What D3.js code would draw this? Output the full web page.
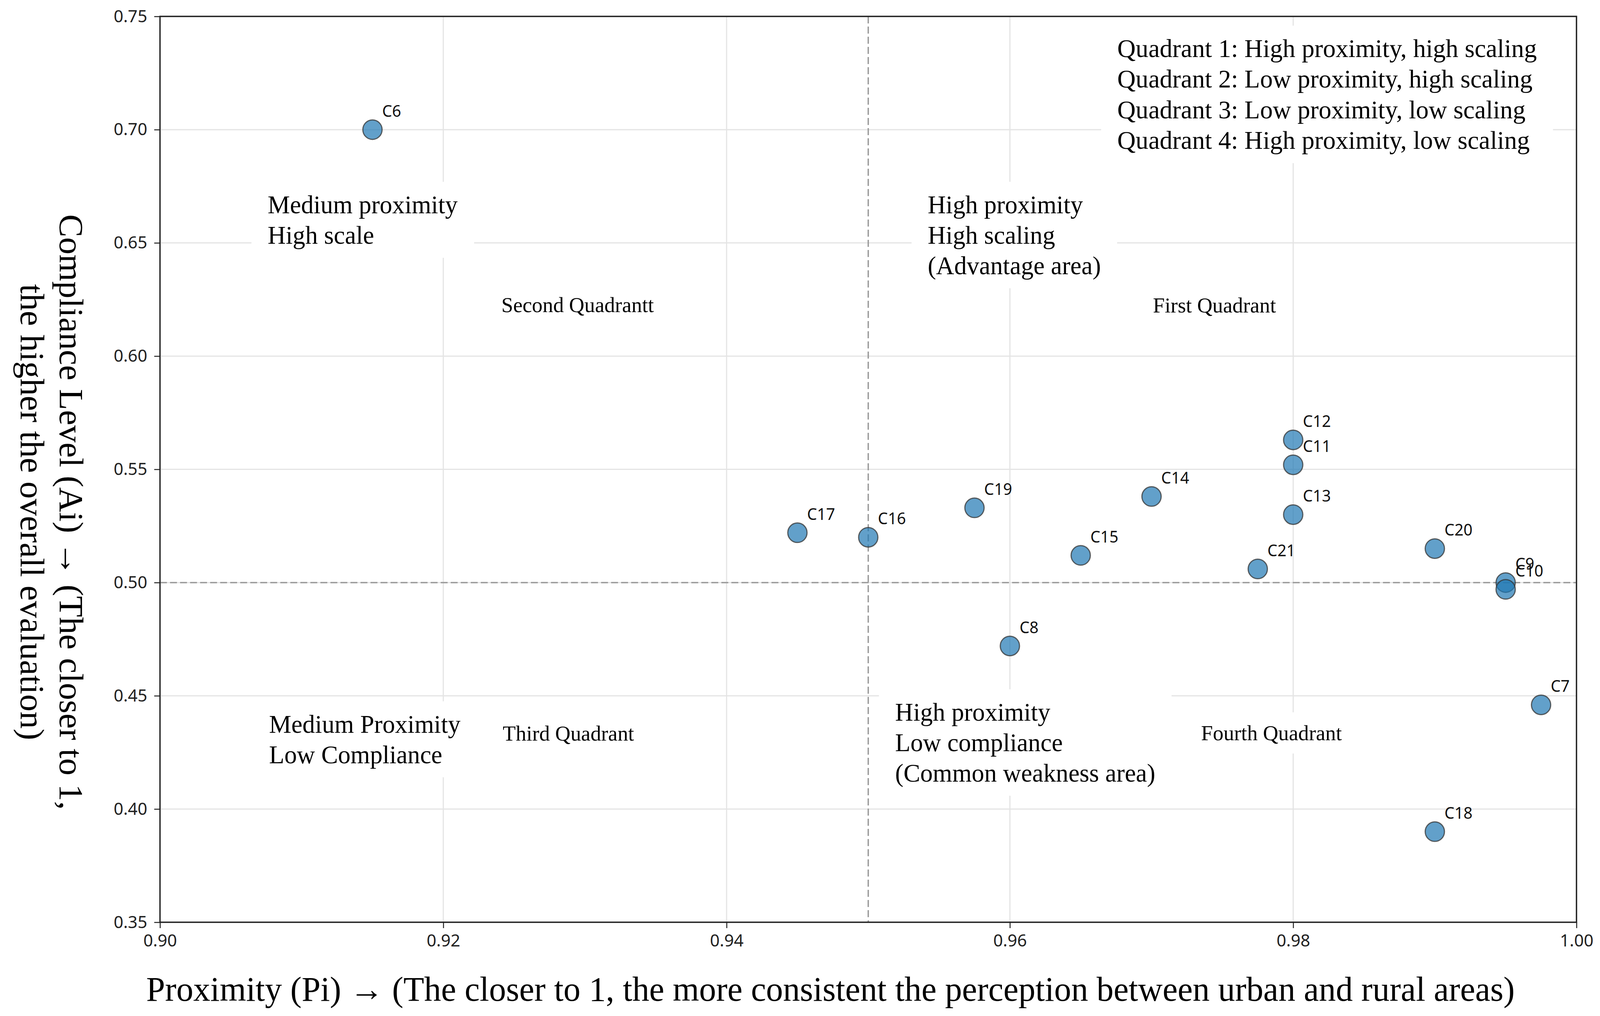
<!DOCTYPE html>
<html>
<head>
<meta charset="utf-8">
<script src="https://cdn.jsdelivr.net/npm/d3@7"></script>
<style>
  html, body { margin: 0; padding: 0; background: #fff; overflow: hidden; }
  svg { display: block; width: 100vw; height: 100vh; }
</style>
</head>
<body>
<svg viewBox="0 0 4150 2601" preserveAspectRatio="none"></svg>
<script>
// ---- data ----
const codes      = ["C6", "C7", "C8", "C9", "C10", "C11", "C12", "C13", "C14", "C15", "C16", "C17", "C18", "C19", "C20", "C21"];
const proximity  = [0.915, 0.9975, 0.960, 0.995, 0.995, 0.980, 0.980, 0.980, 0.970, 0.965, 0.950, 0.945, 0.990, 0.9575, 0.990, 0.9775];
const compliance = [0.700, 0.446, 0.472, 0.500, 0.497, 0.552, 0.563, 0.530, 0.538, 0.512, 0.520, 0.522, 0.390, 0.533, 0.515, 0.506];

const xTicks = [0.90, 0.92, 0.94, 0.96, 0.98, 1.00];
const yTicks = [0.35, 0.40, 0.45, 0.50, 0.55, 0.60, 0.65, 0.70, 0.75];

const xThreshold = 0.95;
const yThreshold = 0.50;

const legendLines = [
  "Quadrant 1: High proximity, high scaling",
  "Quadrant 2: Low proximity, high scaling",
  "Quadrant 3: Low proximity, low scaling",
  "Quadrant 4: High proximity, low scaling"
];

// quadrant notes, anchored in data units
const notes = [
  { x: 0.9076, y: 0.6631, big: true,  lines: ["Medium proximity", "High scale"] },
  { x: 0.9542, y: 0.6631, big: true,  lines: ["High proximity", "High scaling", "(Advantage area)"] },
  { x: 0.9241, y: 0.6194, big: false, lines: ["Second Quadrantt"] },
  { x: 0.9701, y: 0.6193, big: false, lines: ["First Quadrant"] },
  { x: 0.9077, y: 0.4337, big: true,  lines: ["Medium Proximity", "Low Compliance"] },
  { x: 0.9242, y: 0.4302, big: false, lines: ["Third Quadrant"] },
  { x: 0.9519, y: 0.4390, big: true,  lines: ["High proximity", "Low compliance", "(Common weakness area)"] },
  { x: 0.9735, y: 0.4304, big: false, lines: ["Fourth Quadrant"] }
];

const xLabel = "Proximity (Pi) \u2192 (The closer to 1, the more consistent the perception between urban and rural areas)";
const yLabelLines = [
  "Compliance Level (Ai) \u2192 (The closer to 1,",
  "the higher the overall evaluation)"
];

// ---- layout ----
const svg = d3.select('svg');
const width = 4150;
const height = 2601;
const margin = { top: 42, right: 61, bottom: 240, left: 415 };
const innerWidth = width - margin.left - margin.right;
const innerHeight = height - margin.top - margin.bottom;

const serif = "'Liberation Serif', 'Times New Roman', serif";
const sans = "'Noto Sans', 'DejaVu Sans', sans-serif";

const xScale = d3.scaleLinear().domain([0.90, 1.00]).range([0, innerWidth]);
const yScale = d3.scaleLinear().domain([0.35, 0.75]).range([innerHeight, 0]);

const g = svg.append('g')
  .attr('transform', `translate(${margin.left},${margin.top})`);

// grid
g.append('g').selectAll('line').data(xTicks).enter().append('line')
  .attr('x1', d => xScale(d)).attr('x2', d => xScale(d))
  .attr('y1', 0).attr('y2', innerHeight)
  .attr('stroke', '#e4e4e4').attr('stroke-width', 3);
g.append('g').selectAll('line').data(yTicks).enter().append('line')
  .attr('x1', 0).attr('x2', innerWidth)
  .attr('y1', d => yScale(d)).attr('y2', d => yScale(d))
  .attr('stroke', '#e4e4e4').attr('stroke-width', 3);

// quadrant dividers
g.append('line')
  .attr('x1', xScale(xThreshold)).attr('x2', xScale(xThreshold))
  .attr('y1', 0).attr('y2', innerHeight)
  .attr('stroke', '#9a9a9a').attr('stroke-width', 3.5)
  .attr('stroke-dasharray', '18,8');
g.append('line')
  .attr('x1', 0).attr('x2', innerWidth)
  .attr('y1', yScale(yThreshold)).attr('y2', yScale(yThreshold))
  .attr('stroke', '#9a9a9a').attr('stroke-width', 3.5)
  .attr('stroke-dasharray', '18,8');

// text with a white box behind it
const boxedText = (parent, x, y, lines, size, lineHeight) => {
  const grp = parent.append('g');
  const rect = grp.append('rect').attr('fill', 'white');
  const t = grp.append('text')
    .attr('x', x).attr('y', y)
    .attr('font-family', serif)
    .attr('font-size', size)
    .attr('fill', '#000');
  lines.forEach((line, i) => {
    t.append('tspan').attr('x', x).attr('dy', i === 0 ? 0 : lineHeight).text(line);
  });
  const bb = t.node().getBBox();
  const padX = 42, padY = 22;
  rect.attr('x', bb.x - padX).attr('y', bb.y - padY)
    .attr('width', bb.width + 2 * padX).attr('height', bb.height + 2 * padY);
};

notes.forEach(n => {
  boxedText(g, xScale(n.x), yScale(n.y), n.lines, n.big ? 65 : 55, 78);
});

// legend box in the top-right corner
boxedText(g, innerWidth - 1191, 104, legendLines, 66, 78.5);

// points
const points = codes.map((c, i) => ({ code: c, p: proximity[i], a: compliance[i] }));

g.append('g').selectAll('circle').data(points).enter().append('circle')
  .attr('cx', d => xScale(d.p))
  .attr('cy', d => yScale(d.a))
  .attr('r', 25)
  .attr('fill', '#1f77b4')
  .attr('fill-opacity', 0.7)
  .attr('stroke', '#333')
  .attr('stroke-opacity', 0.75)
  .attr('stroke-width', 3);

g.append('g').selectAll('text').data(points).enter().append('text')
  .attr('x', d => xScale(d.p) + 25)
  .attr('y', d => yScale(d.a) - 33)
  .attr('font-family', sans)
  .attr('font-size', 41)
  .attr('fill', '#111')
  .text(d => d.code);

// axes
const xAxis = d3.axisBottom(xScale).tickValues(xTicks).tickFormat(d3.format('.2f'))
  .tickSize(15).tickSizeOuter(0).tickPadding(16);
const yAxis = d3.axisLeft(yScale).tickValues(yTicks).tickFormat(d3.format('.2f'))
  .tickSize(15).tickSizeOuter(0).tickPadding(18);

const xg = g.append('g').attr('transform', `translate(0,${innerHeight})`).call(xAxis);
const yg = g.append('g').call(yAxis);
[xg, yg].forEach(a => {
  a.select('.domain').remove();
  a.selectAll('.tick line').attr('stroke', '#222').attr('stroke-width', 2.5);
  a.selectAll('.tick text')
    .attr('font-family', sans).attr('font-size', 44).attr('fill', '#222');
});

// spines
g.append('rect')
  .attr('x', 0).attr('y', 0)
  .attr('width', innerWidth).attr('height', innerHeight)
  .attr('fill', 'none')
  .attr('stroke', '#222').attr('stroke-width', 3.5);

// axis titles
svg.append('text')
  .attr('x', 2154).attr('y', 2562)
  .attr('text-anchor', 'middle')
  .attr('font-family', serif)
  .attr('font-size', 88)
  .attr('fill', '#000')
  .text(xLabel);

const yl = svg.append('text')
  .attr('transform', 'translate(155,1311) rotate(90)')
  .attr('text-anchor', 'middle')
  .attr('font-family', serif)
  .attr('font-size', 88)
  .attr('fill', '#000');
yLabelLines.forEach((line, i) => {
  yl.append('tspan').attr('x', 0).attr('dy', i === 0 ? 0 : 101).text(line);
});
</script>
</body>
</html>
